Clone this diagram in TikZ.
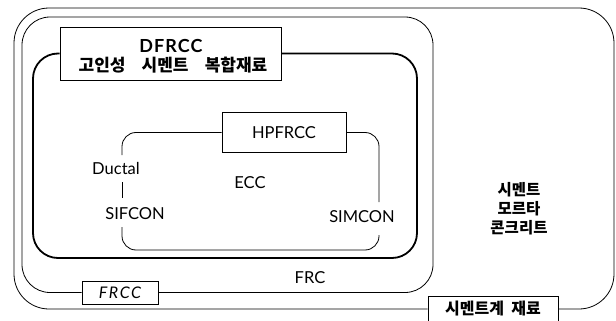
\documentclass[tikz,border=0pt]{standalone}
\usepackage{fontspec}
\setmainfont{Lato}
\newfontfamily\kr{Noto Sans CJK KR}
\begin{document}
\begin{tikzpicture}[x=1pt,y=-1pt,
  thinline/.style={line width=0.8pt},
  thickline/.style={line width=1.8pt},
  labelbox/.style={draw, line width=0.8pt, fill=white, inner sep=0pt},
  lat/.style={font=\fontsize{16.5}{18}\selectfont},
  kor/.style={font=\kr\bfseries\fontsize{15.5}{19}\selectfont}]
\useasboundingbox (0,0) rectangle (616,321);

% label boxes
\node[labelbox, minimum width=130pt, minimum height=26pt, font=\kr\bfseries\fontsize{16}{16}\selectfont] (cem) at (493,309) {시멘트계\hspace{0.45em}재료};
\node[labelbox, minimum width=76pt, minimum height=23pt, font=\itshape\fontsize{16}{16}\selectfont\addfontfeatures{LetterSpace=10}] (frcc) at (120,292.5) {FRCC};
\node[labelbox, minimum width=221pt, minimum height=53pt] (dfrcc) at (170.5,53.5) {};
\node[font=\bfseries\fontsize{18}{18}\selectfont\addfontfeatures{LetterSpace=6}] (dfrcct) at (171,46) {DFRCC};
\node[font=\kr\bfseries\fontsize{17}{17}\selectfont] (dfrcck) at (173,65) {고인성\hspace{0.95em}시멘트\hspace{0.95em}복합재료};
\node[labelbox, minimum width=124pt, minimum height=40pt, lat] (hp) at (284,132.5) {HPFRCC};

% text labels
\node[lat] (ductal) at (116,168) {Ductal};
\node[lat] (ecc) at (250,183) {ECC};
\node[lat] (sifcon) at (135,214) {SIFCON};
\node[lat] (simcon) at (362,217) {SIMCON};
\node[lat] (frc) at (310,278) {FRC};
\node[kor, align=center] (cmc) at (519,209) {시멘트\\모르타\\콘크리트};

% free ends of the HPFRCC frame
\coordinate (l1) at (122,155);
\coordinate (l2) at (122,182);
\coordinate (l3) at (122,198);
\coordinate (l4) at (122,227);
\coordinate (r1) at (379,202);
\coordinate (r2) at (379,235);

% frames
\draw[thinline, rounded corners=35pt] (cem.west) -- (14,309) -- (14,8) -- (614,8) -- (614,309) -- (cem.east);
\draw[thinline, rounded corners=28pt] (frcc.west) -- (22,292.5) -- (22,17) -- (433,17) -- (433,292.5) -- (frcc.east);
\draw[thickline, rounded corners=25pt] (dfrcc.west) -- (33,53.5) -- (33,258) -- (417,258) -- (417,53.5) -- (dfrcc.east);
\draw[thinline, rounded corners=14pt] (hp.west) -- (122,132.5) -- (l1);
\draw[thinline] (l2) -- (l3);
\draw[thinline, rounded corners=14pt] (l4) -- (122,250) -- (379,250) -- (r2);
\draw[thinline, rounded corners=14pt] (r1) -- (379,132.5) -- (hp.east);
\end{tikzpicture}
\end{document}
